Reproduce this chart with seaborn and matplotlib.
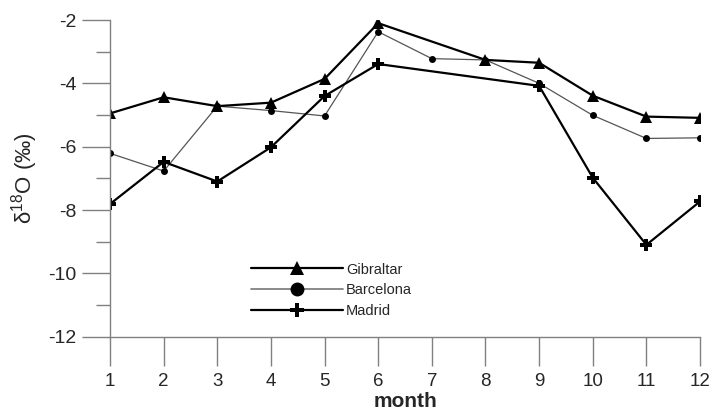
import matplotlib
matplotlib.use("Agg")
import matplotlib.pyplot as plt
from matplotlib.lines import Line2D
from matplotlib.ticker import MultipleLocator
import seaborn as sns
import pandas as pd

gib_months = [1, 2, 3, 4, 5, 6, 8, 9, 10, 11, 12]
gib_vals = [-4.95, -4.44, -4.72, -4.61, -3.86, -2.10, -3.26, -3.35, -4.39, -5.05, -5.09]
bar_months = [1, 2, 3, 4, 5, 6, 7, 8, 9, 10, 11, 12]
bar_vals = [-6.21, -6.77, -4.72, -4.86, -5.03, -2.37, -3.22, -3.26, -4.00, -5.01, -5.74, -5.72]
mad_months = [1, 2, 3, 4, 5, 6, 9, 10, 11, 12]
mad_vals = [-7.81, -6.48, -7.10, -6.02, -4.40, -3.39, -4.08, -6.98, -9.10, -7.73]
series_names = ["Gibraltar", "Barcelona", "Madrid"]
month_ticks = list(range(1, 13))
y_ticks = [-2, -4, -6, -8, -10, -12]

sns.set_theme(style="white")
plt.rcParams["font.family"] = ["Liberation Sans", "DejaVu Sans"]
plt.rcParams["mathtext.fontset"] = "custom"
plt.rcParams["mathtext.rm"] = "Liberation Sans"
plt.rcParams["mathtext.it"] = "Liberation Sans"

fig = plt.figure(figsize=(7.13, 4.15), dpi=100)
ax = fig.add_axes([0.1543, 0.1887, 0.8275, 0.7631])

styles = {
    "Gibraltar": dict(color="black", lw=1.6, marker="^", ms=8),
    "Barcelona": dict(color="#555555", lw=0.9, marker="o", ms=5),
    "Madrid": dict(color="black", lw=1.6, marker="P", ms=9),
}
data = {
    "Gibraltar": (gib_months, gib_vals),
    "Barcelona": (bar_months, bar_vals),
    "Madrid": (mad_months, mad_vals),
}
for name in ["Barcelona", "Madrid", "Gibraltar"]:
    m, v = data[name]
    df = pd.DataFrame({"month": m, "d18O": v})
    st = styles[name]
    sns.lineplot(data=df, x="month", y="d18O", ax=ax, color=st["color"], lw=st["lw"],
                 marker=st["marker"], markersize=st["ms"], markeredgewidth=0,
                 markerfacecolor="black", sort=False)

ax.set_xlim(1, 12)
ax.set_ylim(-12, -2)
ax.set_xticks(month_ticks)
ax.set_xticklabels([str(t) for t in month_ticks], fontsize=13.5)
ax.set_yticks(y_ticks)
ax.set_yticklabels([str(t) for t in y_ticks], fontsize=14)
ax.yaxis.set_minor_locator(MultipleLocator(1))
ax.tick_params(axis="y", which="major", direction="out", length=20, width=1, color="#808080", pad=4, left=True)
ax.tick_params(axis="y", which="minor", direction="out", length=10, width=1, color="#808080", left=True)
ax.tick_params(axis="x", which="major", direction="out", length=21, width=1, color="#808080", pad=5, bottom=True)
for s in ["top", "right"]:
    ax.spines[s].set_visible(False)
for s in ["left", "bottom"]:
    ax.spines[s].set_color("#808080")
    ax.spines[s].set_linewidth(1)
ax.grid(False)

ax.set_xlabel("month", fontsize=15, fontweight="bold", va="top")
ax.xaxis.set_label_coords(0.5, -0.176)
ax.set_ylabel("δ$^{18}$O (‰)", fontsize=16, labelpad=6)

handles = [
    Line2D([], [], color="black", lw=1.6, marker="^", ms=10, markeredgewidth=0, markerfacecolor="black"),
    Line2D([], [], color="#777777", lw=1.2, marker="o", ms=10, markeredgewidth=0, markerfacecolor="black"),
    Line2D([], [], color="black", lw=1.6, marker="P", ms=10, markeredgewidth=0, markerfacecolor="black"),
]
leg = ax.legend(handles, series_names, loc="upper left", bbox_to_anchor=(0.227, 0.257),
                frameon=False, handlelength=6.3, handletextpad=0.2, labelspacing=0.45,
                fontsize=10.5, borderpad=0)

fig.savefig("out.png", dpi=100)
